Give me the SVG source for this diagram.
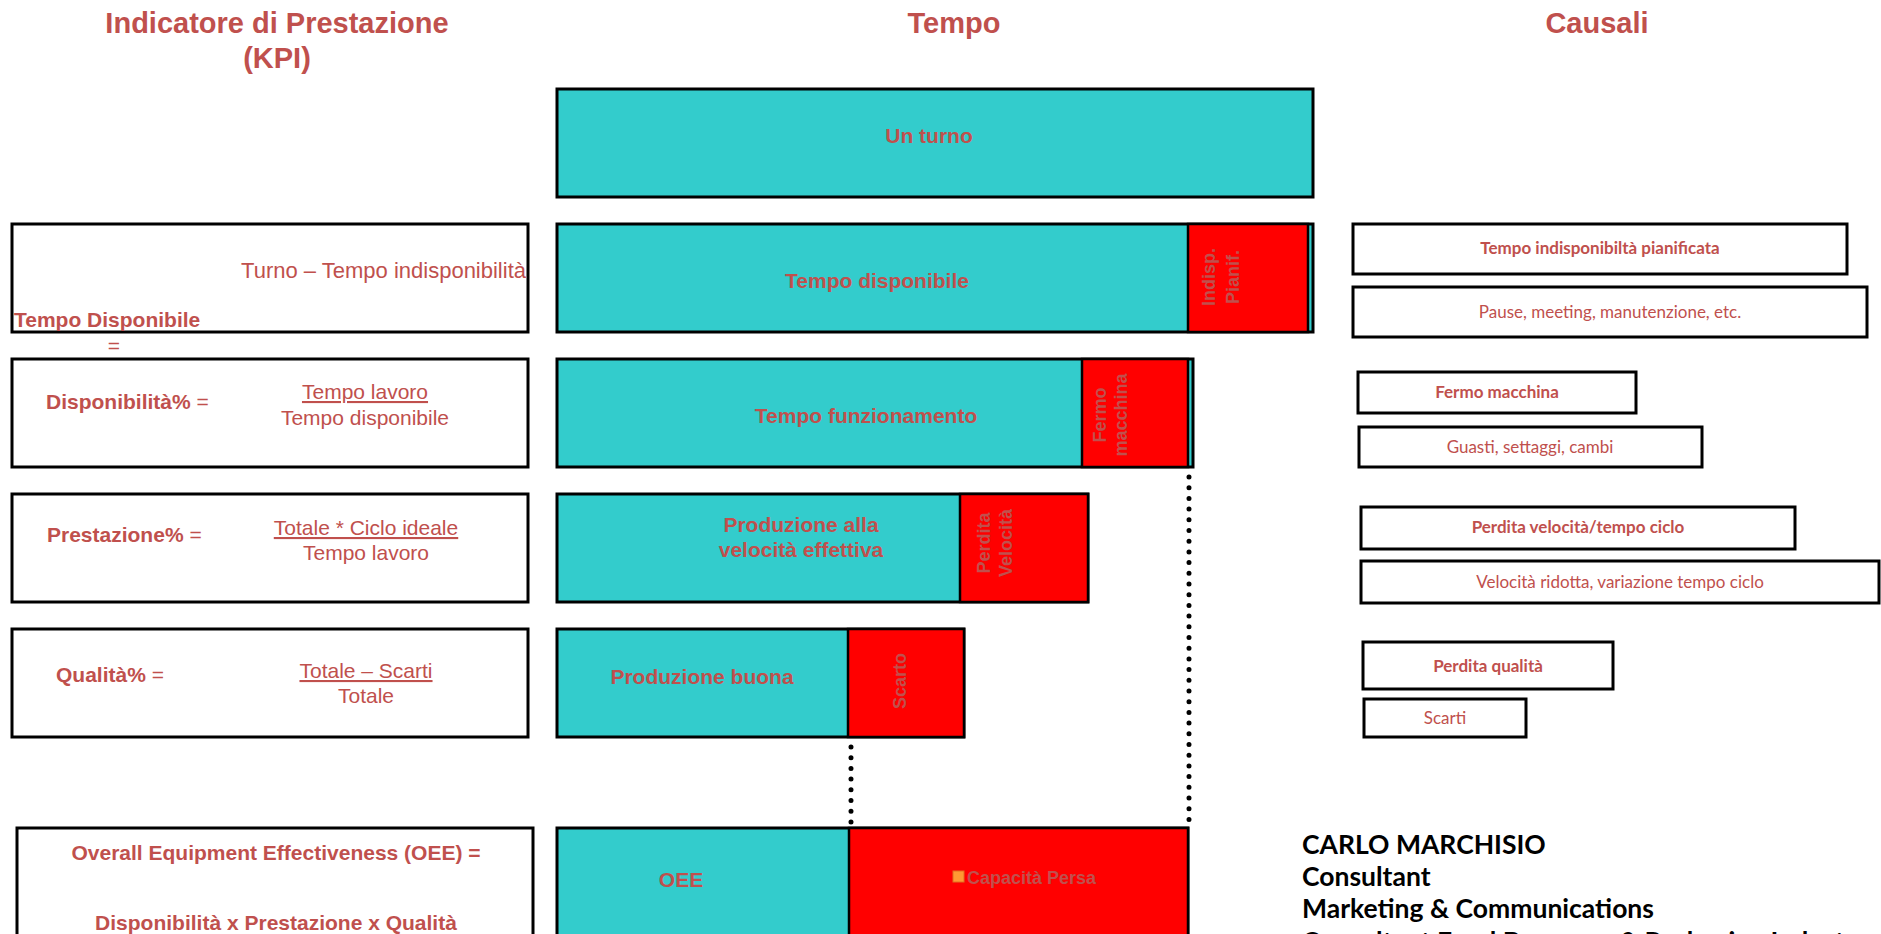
<svg xmlns="http://www.w3.org/2000/svg" width="1881" height="934" viewBox="0 0 1881 934">
<style>
.t{font-family:"Liberation Sans",Arial,sans-serif;fill:#C0504D}
.b{font-weight:bold}
.h{font-size:29px;font-weight:bold;text-anchor:middle}
.bar{fill:#33CCCC;stroke:#000;stroke-width:3}
.loss{fill:#FF0000;stroke:#000;stroke-width:2.5}
.box{fill:#fff;stroke:#000;stroke-width:3}
.lbl{font-size:21px;font-weight:bold;text-anchor:middle}
.rot{font-size:18px;font-weight:bold;text-anchor:middle}
.f{font-size:21px}
.c{font-family:Lato,"Open Sans",sans-serif;fill:#C0504D;font-size:17px;text-anchor:middle}
.sig{font-family:Lato,"Open Sans",sans-serif;fill:#000;font-size:26.5px;font-weight:bold}
.dots{stroke:#000;stroke-width:5;stroke-linecap:round;stroke-dasharray:0 10.7;fill:none}
</style>

<g id="headers">
<text class="t h" x="277" y="33">Indicatore di Prestazione</text>
<text class="t h" x="277" y="68">(KPI)</text>
<text class="t h" x="954" y="33">Tempo</text>
<text class="t h" x="1597" y="33">Causali</text>
</g>

<g id="connectors">
<line class="dots" x1="1189" y1="477" x2="1189" y2="830"/>
<line class="dots" x1="851" y1="747" x2="851" y2="822"/>
</g>

<g id="bar-turno">
<rect class="bar" x="557" y="89" width="756" height="108"/>
<text class="t lbl" x="929" y="143">Un turno</text>
</g>

<g id="bar-disponibile">
<rect class="bar" x="557" y="224" width="756" height="108"/>
<rect class="loss" x="1188" y="224" width="120" height="108"/>
<text class="t lbl" x="877" y="288">Tempo disponibile</text>
<text class="t rot" transform="translate(1215,277) rotate(-90)">Indisp.</text>
<text class="t rot" transform="translate(1239,277) rotate(-90)">Pianif.</text>
</g>

<g id="bar-funzionamento">
<rect class="bar" x="557" y="359" width="636" height="108"/>
<rect class="loss" x="1082" y="359" width="106" height="108"/>
<text class="t lbl" x="866" y="423">Tempo funzionamento</text>
<text class="t rot" transform="translate(1106,415) rotate(-90)">Fermo</text>
<text class="t rot" transform="translate(1127,415) rotate(-90)">macchina</text>
</g>

<g id="bar-velocita">
<rect class="bar" x="557" y="494" width="531" height="108"/>
<rect class="loss" x="960" y="494" width="128" height="108"/>
<text class="t lbl" x="801" y="532">Produzione alla</text>
<text class="t lbl" x="801" y="557">velocità effettiva</text>
<text class="t rot" transform="translate(990,543) rotate(-90)">Perdita</text>
<text class="t rot" transform="translate(1012,543) rotate(-90)">Velocità</text>
</g>

<g id="bar-buona">
<rect class="bar" x="557" y="629" width="407" height="108"/>
<rect class="loss" x="848" y="629" width="116" height="108"/>
<text class="t lbl" x="702" y="684">Produzione buona</text>
<text class="t rot" transform="translate(906,681) rotate(-90)">Scarto</text>
</g>

<g id="bar-oee">
<rect class="bar" x="557" y="828" width="631" height="120"/>
<rect class="loss" x="849" y="828" width="339" height="120"/>
<text class="t lbl" x="681" y="887">OEE</text>
<rect x="953" y="871" width="11" height="11" fill="#FF9933" stroke="#E07020" stroke-width="1"/>
<text class="t b" x="967" y="884" font-size="18">Capacità Persa</text>
</g>

<g id="kpi-tempo-disponibile">
<rect class="box" x="12" y="224" width="516" height="108"/>
<text class="t" x="526" y="278" font-size="22" text-anchor="end">Turno – Tempo indisponibilità</text>
<text class="t b f" x="14" y="327">Tempo Disponibile</text>
<text class="t f" x="114" y="353" text-anchor="middle">=</text>
</g>

<g id="kpi-disponibilita">
<rect class="box" x="12" y="359" width="516" height="108"/>
<text class="t f" x="46" y="409"><tspan font-weight="bold">Disponibilità%</tspan> =</text>
<text class="t f" x="365" y="399" text-anchor="middle" text-decoration="underline">Tempo lavoro</text>
<text class="t f" x="365" y="425" text-anchor="middle">Tempo disponibile</text>
</g>

<g id="kpi-prestazione">
<rect class="box" x="12" y="494" width="516" height="108"/>
<text class="t f" x="47" y="542"><tspan font-weight="bold">Prestazione%</tspan> =</text>
<text class="t f" x="366" y="535" text-anchor="middle" text-decoration="underline">Totale * Ciclo ideale</text>
<text class="t f" x="366" y="560" text-anchor="middle">Tempo lavoro</text>
</g>

<g id="kpi-qualita">
<rect class="box" x="12" y="629" width="516" height="108"/>
<text class="t f" x="56" y="682"><tspan font-weight="bold">Qualità%</tspan> =</text>
<text class="t f" x="366" y="678" text-anchor="middle" text-decoration="underline">Totale – Scarti</text>
<text class="t f" x="366" y="703" text-anchor="middle">Totale</text>
</g>

<g id="kpi-oee">
<rect class="box" x="17" y="828" width="516" height="120"/>
<text class="t lbl" x="276" y="860">Overall Equipment Effectiveness (OEE) =</text>
<text class="t lbl" x="276" y="930">Disponibilità x Prestazione x Qualità</text>
</g>

<g id="causa-indisp">
<rect class="box" x="1353" y="224" width="494" height="50"/>
<text class="c b" x="1600" y="254">Tempo indisponibiltà pianificata</text>
</g>
<g id="causa-pause">
<rect class="box" x="1353" y="287" width="514" height="50"/>
<text class="c" x="1610" y="318">Pause, meeting, manutenzione, etc.</text>
</g>
<g id="causa-fermo">
<rect class="box" x="1358" y="372" width="278" height="41"/>
<text class="c b" x="1497" y="398">Fermo macchina</text>
</g>
<g id="causa-guasti">
<rect class="box" x="1359" y="427" width="343" height="40"/>
<text class="c" x="1530" y="453">Guasti, settaggi, cambi</text>
</g>
<g id="causa-perdita-vel">
<rect class="box" x="1361" y="507" width="434" height="42"/>
<text class="c b" x="1578" y="533">Perdita velocità/tempo ciclo</text>
</g>
<g id="causa-vel-ridotta">
<rect class="box" x="1361" y="561" width="518" height="42"/>
<text class="c" x="1620" y="588">Velocità ridotta, variazione tempo ciclo</text>
</g>
<g id="causa-perdita-qual">
<rect class="box" x="1363" y="642" width="250" height="47"/>
<text class="c b" x="1488" y="672">Perdita qualità</text>
</g>
<g id="causa-scarti">
<rect class="box" x="1364" y="699" width="162" height="38"/>
<text class="c" x="1445" y="724">Scarti</text>
</g>

<g id="signature">
<text class="sig" x="1302" y="854">CARLO MARCHISIO</text>
<text class="sig" x="1302" y="886">Consultant</text>
<text class="sig" x="1302" y="918">Marketing &amp; Communications</text>
<text class="sig" x="1302" y="951">Consultant Food Beverage &amp; Packaging Indust</text>
</g>
</svg>
